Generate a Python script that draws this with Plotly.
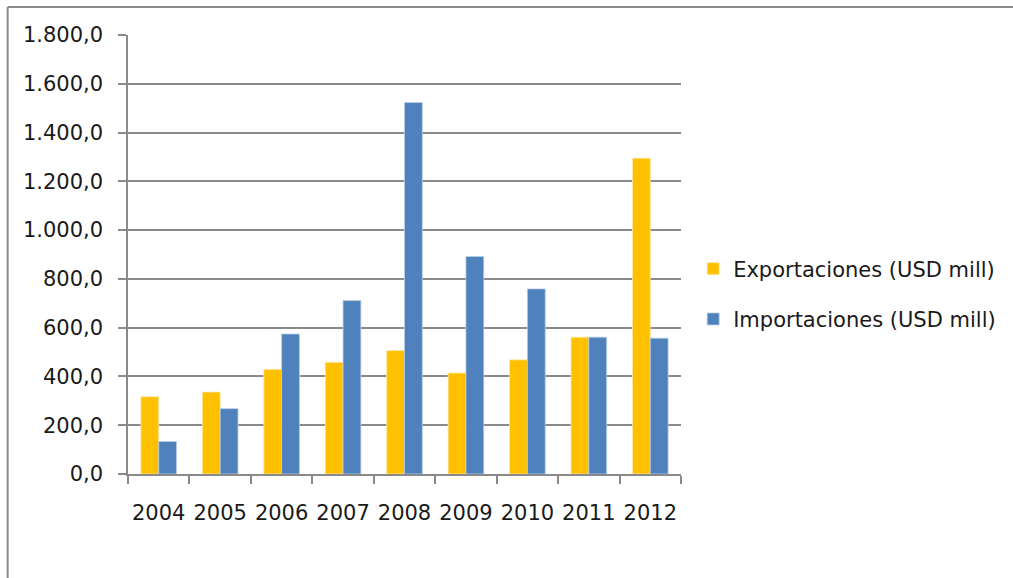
import plotly.graph_objects as go

years = ["2004", "2005", "2006", "2007", "2008", "2009", "2010", "2011", "2012"]
exportaciones = [317, 336, 429, 458, 506, 414, 468, 561, 1295]
importaciones = [133, 268, 574, 711, 1523, 892, 759, 561, 557]
y_ticks = [0, 200, 400, 600, 800, 1000, 1200, 1400, 1600, 1800]

FONT = "DejaVu Sans"
FS = 21
TXT = "#1a1a1a"
GRID = "#8a8a8a"

fig = go.Figure()
fig.add_trace(go.Bar(x=years, y=exportaciones, name="Exportaciones (USD mill)",
                     marker=dict(color="#FFC000", line=dict(color="#FFE9A8", width=0.8)),
                     legendgroup="a"))
fig.add_trace(go.Bar(x=years, y=importaciones, name="Importaciones (USD mill)",
                     marker=dict(color="#4F81BD", line=dict(color="#B9CDE5", width=0.8)),
                     legendgroup="b"))

fig.update_layout(
    width=1013, height=578,
    margin=dict(l=128, r=329, t=35, b=104),
    paper_bgcolor="white", plot_bgcolor="white",
    separators=",.",
    barmode="group", bargap=0.42, bargroupgap=0,
    font=dict(family=FONT, size=FS, color=TXT),
    showlegend=True,
    legend=dict(x=1.022, y=0.41, xanchor="left", yanchor="middle",
                traceorder="grouped", tracegroupgap=20,
                font=dict(family=FONT, size=FS, color=TXT),
                itemwidth=30, bgcolor="rgba(0,0,0,0)"),
    xaxis=dict(showline=True, linecolor=GRID, linewidth=1.5,
               ticks="outside", tickson="boundaries", ticklen=8, tickcolor=GRID,
               tickwidth=1.5, ticklabelstandoff=19, tickangle=0,
               tickfont=dict(family=FONT, size=FS, color=TXT),
               showgrid=False),
    yaxis=dict(range=[0, 1800], tickvals=y_ticks, tickformat=",.1f",
               showline=True, linecolor=GRID, linewidth=1.5,
               ticks="outside", ticklen=8, tickcolor=GRID, tickwidth=1.5,
               ticklabelstandoff=11,
               showgrid=True, gridcolor=GRID, gridwidth=1.5, zeroline=False,
               tickfont=dict(family=FONT, size=FS, color=TXT)),
)

# outer chart frame (top and left edges visible in the crop)
x_left = (7 - 128) / 556
y_top = 1 + (35 - 7) / 439
fig.add_shape(type="line", xref="paper", yref="paper",
              x0=x_left, x1=(1020 - 128) / 556, y0=y_top, y1=y_top,
              line=dict(color="#8a8a8a", width=2), layer="below")
fig.add_shape(type="line", xref="paper", yref="paper",
              x0=x_left, x1=x_left, y0=-0.4, y1=y_top,
              line=dict(color="#8a8a8a", width=2), layer="below")

fig.write_html("out.html", config={"displayModeBar": False},
               post_script="document.body.style.margin='0';")
